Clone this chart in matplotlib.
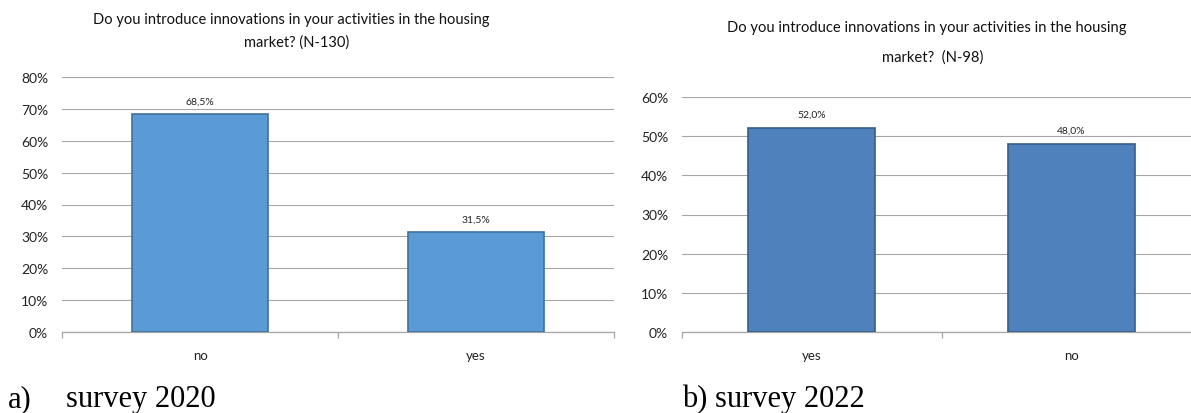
import matplotlib
matplotlib.use("Agg")
import matplotlib.pyplot as plt
from matplotlib.ticker import PercentFormatter, FixedLocator

# ---- data ----
cats_2020 = ["no", "yes"]
vals_2020 = [68.5, 31.5]
labels_2020 = ["68,5%", "31,5%"]
yticks_2020 = [0, 10, 20, 30, 40, 50, 60, 70, 80]

cats_2022 = ["yes", "no"]
vals_2022 = [52.0, 48.0]
labels_2022 = ["52,0%", "48,0%"]
yticks_2022 = [0, 10, 20, 30, 40, 50, 60]

title_2020 = ["Do you introduce innovations in your activities in the housing",
              "market? (N-130)"]
title_2022 = ["Do you introduce innovations in your activities in the housing",
              "market?  (N-98)"]
caption_2020 = ("a)", "survey 2020")
caption_2022 = "b) survey 2022"

W, H = 1191, 414
fig = plt.figure(figsize=(W / 100, H / 100), dpi=100)
FONT = "Lato"
GRID = "#A6A6A6"


def px_axes(x0, x1, y_bottom, y_top):
    return fig.add_axes([x0 / W, (H - y_bottom) / H, (x1 - x0) / W, (y_bottom - y_top) / H])


def draw(ax, cats, vals, labels, yticks, face, edge, lab_off):
    x = list(range(len(cats)))
    ax.set_xlim(-0.5, len(cats) - 0.5)
    ax.set_ylim(0, yticks[-1])
    ax.set_yticks(yticks)
    ax.yaxis.set_major_formatter(PercentFormatter(decimals=0))
    ax.grid(axis="y", color=GRID, linewidth=0.8, zorder=0)
    ax.set_axisbelow(True)
    bars = ax.bar(x, vals, width=0.49, color=face, edgecolor=edge, linewidth=1.2, zorder=3)
    for b, t in zip(bars, labels):
        ax.annotate(t, (b.get_x() + b.get_width() / 2, b.get_height()),
                    xytext=(0, lab_off), textcoords="offset points",
                    ha="center", va="bottom", fontsize=7.5, family=FONT, color="#222222")
    for s in ("left", "right", "top"):
        ax.spines[s].set_visible(False)
    ax.spines["bottom"].set_color(GRID)
    ax.spines["bottom"].set_linewidth(0.9)
    ax.set_xticks(x)
    ax.set_xticklabels(cats, family=FONT, fontsize=9.5, color="#222222")
    ax.tick_params(axis="x", which="major", length=0, pad=12)
    ax.xaxis.set_minor_locator(FixedLocator([i - 0.5 for i in range(len(cats) + 1)]))
    ax.tick_params(axis="x", which="minor", length=4, color=GRID, width=0.9)
    ax.tick_params(axis="y", length=0, pad=10, labelsize=10, labelcolor="#222222")
    for lab in ax.get_yticklabels():
        lab.set_family(FONT)


ax1 = px_axes(62, 614, 333, 78)
draw(ax1, cats_2020, vals_2020, labels_2020, yticks_2020, "#5B9BD5", "#41719C", 6)

ax2 = px_axes(682, 1201, 333, 98)
draw(ax2, cats_2022, vals_2022, labels_2022, yticks_2022, "#4F81BD", "#385D8A", 7)

# titles
fig.text(291 / W, 1 - 20 / H, title_2020[0], ha="center", va="center", family=FONT, fontsize=10.5, color="#111111")
fig.text(297 / W, 1 - 43 / H, title_2020[1], ha="center", va="center", family=FONT, fontsize=10.5, color="#111111")
fig.text(927 / W, 1 - 28 / H, title_2022[0], ha="center", va="center", family=FONT, fontsize=10.6, color="#111111")
fig.text(933 / W, 1 - 58 / H, title_2022[1], ha="center", va="center", family=FONT, fontsize=10.6, color="#111111")

# captions
fig.text(8 / W, 1 - 407 / H, caption_2020[0], ha="left", va="baseline", family="Liberation Serif", fontsize=22)
fig.text(66 / W, 1 - 407 / H, caption_2020[1], ha="left", va="baseline", family="Liberation Serif", fontsize=22)
fig.text(865 / W, 1 - 407 / H, caption_2022, ha="right", va="baseline", family="Liberation Serif", fontsize=22)

fig.savefig("out.png", dpi=100)
